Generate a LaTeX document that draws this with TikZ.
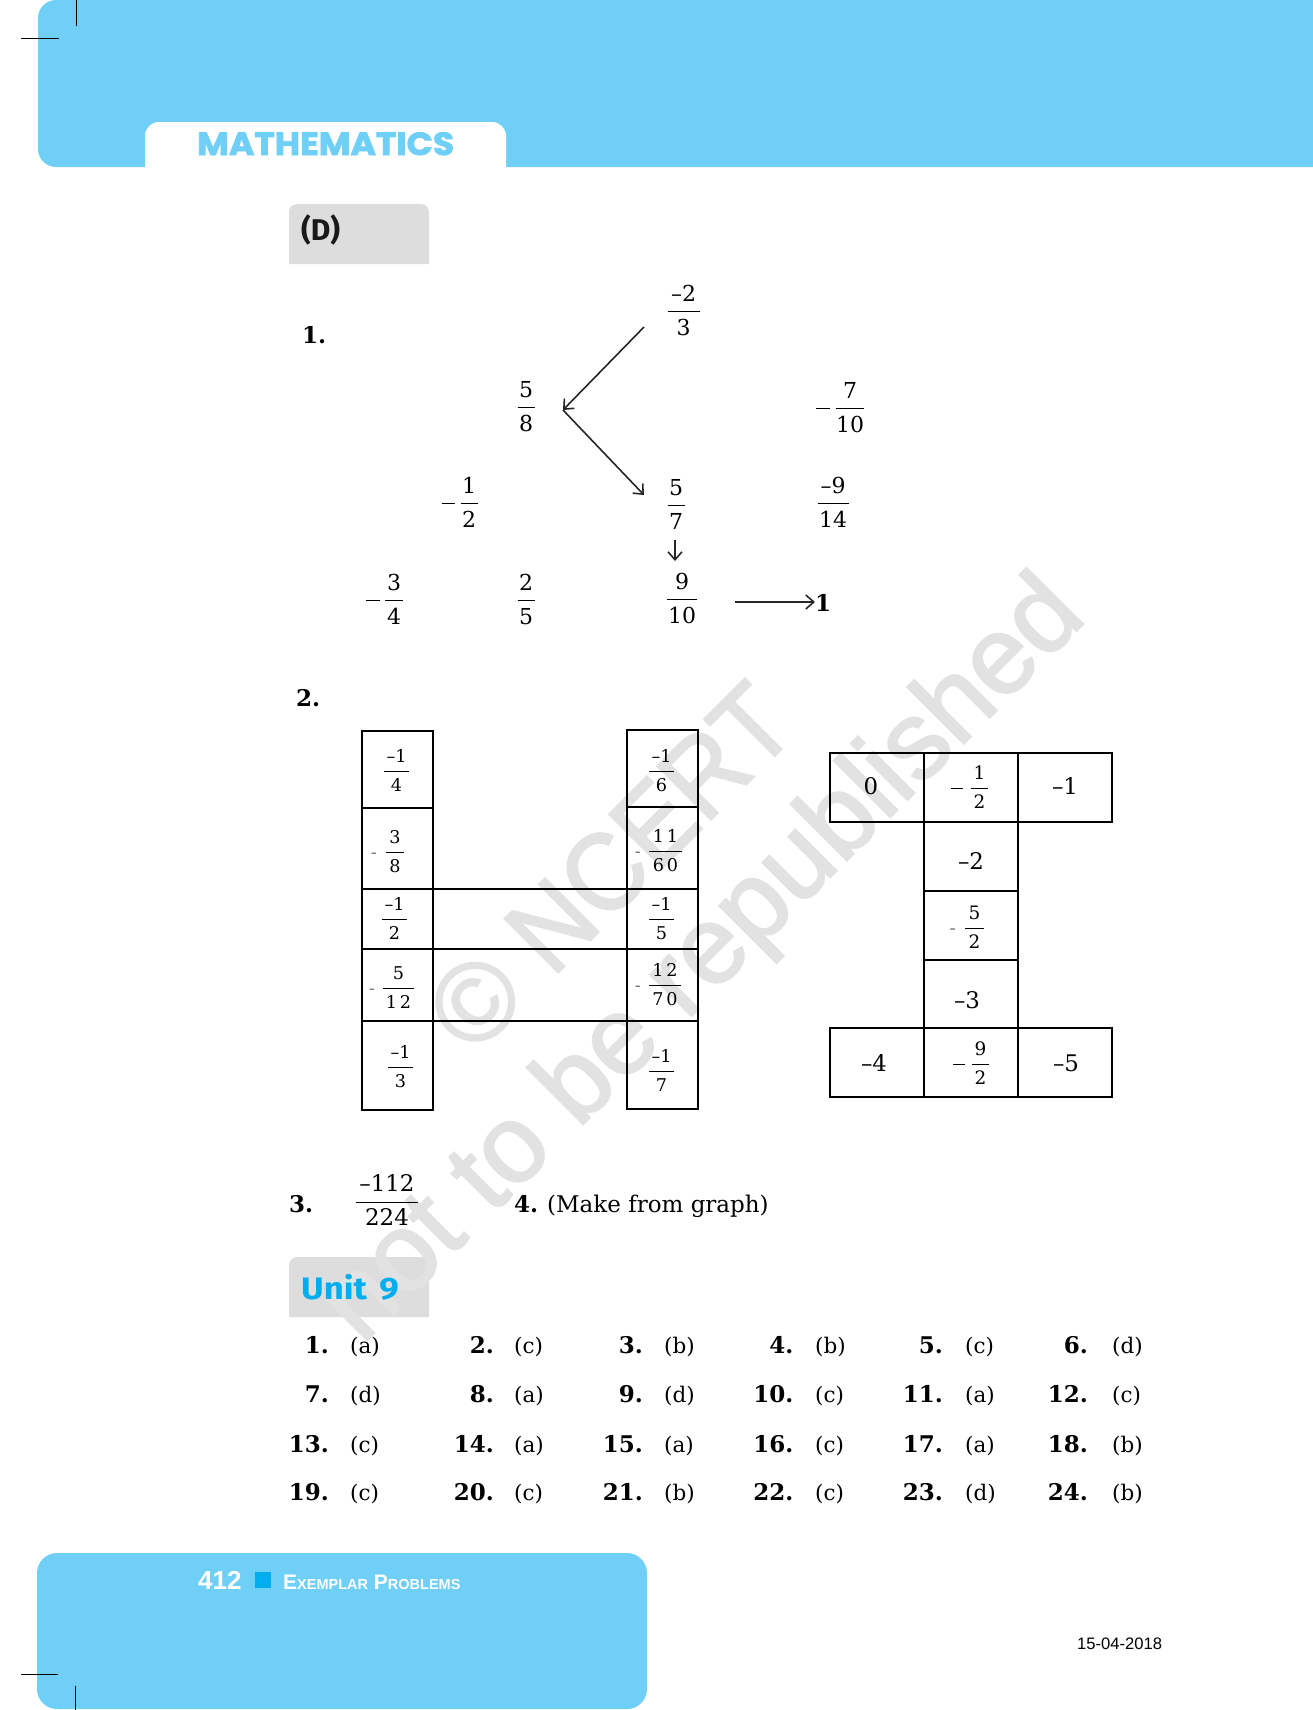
\documentclass[tikz,border=0pt]{standalone}
\usepackage{amsmath,graphicx}
\usepackage[no-math]{fontspec}
\usepackage{tikz}
\usetikzlibrary{arrows.meta}
\newfontfamily\bookfont{DejaVu Serif}
\newfontfamily\numfont[Scale=0.88,Ligatures=TeX]{DejaVu Serif}
\newfontfamily\headfont[BoldFeatures={FakeBold=2.5,FakeStretch=1.08}]{Poppins}
\newfontfamily\labelfont{Fira Sans}
\newfontfamily\unitfont[BoldFeatures={FakeStretch=1.12}]{Fira Sans}
\newfontfamily\footfont{Liberation Sans}
\newfontfamily\wmfont[FakeBold=2]{Liberation Sans}
\definecolor{skyblue}{HTML}{70CFF6}
\definecolor{unitblue}{HTML}{00AEEF}
\definecolor{greybox}{HTML}{DDDDDD}
\definecolor{wmgrey}{HTML}{E2E2E2}
\newcommand{\fr}[3]{$\dfrac{\makebox[#1pt]{\numfont #2}}{\makebox[#1pt]{\numfont #3}}$}
\newcommand{\negfr}[4]{\llap{\rule[0.24em]{0.55em}{0.035em}\hspace{#1pt}}\fr{#2}{#3}{#4}}
\newcommand{\dashfr}[4]{\llap{\textcolor{black!55}{\numfont -}\hspace{#1pt}}\fr{#2}{#3}{#4}}
\tikzset{
  bigfrac/.style={anchor=base,inner sep=0pt,font=\fontsize{25}{30}\selectfont},
  cellfrac/.style={anchor=base,inner sep=0pt,font=\fontsize{20}{24}\selectfont},
  midfrac/.style={anchor=base,inner sep=0pt,font=\fontsize{21}{25}\selectfont},
  cellnum/.style={inner sep=0pt,font=\numfont\fontsize{26}{30}\selectfont},
  qnum/.style={anchor=base west,inner sep=0pt,font=\bookfont\bfseries\fontsize{23}{28}\selectfont},
  ansnum/.style={anchor=base east,inner sep=0pt,font=\bookfont\bfseries\fontsize{23}{28}\selectfont},
  anstext/.style={anchor=base west,inner sep=0pt,font=\bookfont\fontsize{21.5}{26}\selectfont},
  cell/.style={draw,inner sep=0pt,outer sep=0pt,line width=1.8pt,minimum width=71pt},
  wide/.style={draw,inner sep=0pt,outer sep=0pt,line width=1.8pt,minimum width=94pt,minimum height=69pt},
  arr/.style={-{Straight Barb[length=8pt,width=14pt]},line width=1.6pt,black!85},
  crop/.style={line width=0.6pt,black},
  wmtext/.style={text=wmgrey,inner sep=0pt,rotate=45,font=\wmfont\fontsize{110}{120}\selectfont}
}
\begin{document}
\begin{tikzpicture}[x=1pt,y=-1pt]
  \useasboundingbox (0,0) rectangle (1313,1710);
  % Bands
  \fill[skyblue] (1313,0) [rounded corners=18] -- (38,0) -- (38,167) [sharp corners] -- (1313,167) -- cycle;
  \fill[white,rounded corners=14] (145,168) -- (145,122) -- (506,122) -- (506,168);
  \fill[skyblue,rounded corners=20] (37,1709) -- (37,1553) -- (647,1553) -- (647,1709) -- cycle;
  \fill[greybox,rounded corners=8] (289,264) -- (289,204) -- (429,204) -- (429,264);
  \fill[greybox,rounded corners=8] (289,1317) -- (289,1257) -- (429,1257) -- (429,1317);
  % Watermark
  \node[wmtext] (wmone) at (610,867) {\char"00A9{} \scalebox{0.93}[1]{NCERT}};
  \node[wmtext] (wmtwo) at (705,962) {not to be republished};
  % Crop marks
  \coordinate (cropa) at (76,0);  \coordinate (cropb) at (76,26);
  \coordinate (cropc) at (21,38); \coordinate (cropd) at (59,38);
  \coordinate (crope) at (21,1674); \coordinate (cropf) at (58,1674);
  \coordinate (cropg) at (75,1686); \coordinate (croph) at (75,1710);
  \draw[crop] (cropa) -- (cropb);
  \draw[crop] (cropc) -- (cropd);
  \draw[crop] (crope) -- (cropf);
  \draw[crop] (cropg) -- (croph);
  % Headings
  \node[anchor=base west,inner sep=0pt,text=skyblue,font=\headfont\bfseries\fontsize{32}{36}\selectfont] (title) at (197,155) {MATHEMATICS};
  \node[anchor=base west,inner sep=0pt,text=black!90,font=\labelfont\bfseries\fontsize{30}{32}\selectfont] (partd) at (301,240) {(D)};
  \node[anchor=base west,inner sep=0pt,text=unitblue,font=\unitfont\bfseries\fontsize{31}{36}\selectfont] (unit) at (301,1299) {Unit\hspace{4pt} 9};
  % Question 1
  \node[qnum] (qone) at (302,343) {1.};
  \node[bigfrac] (nA) at (683.5,318) {\fr{32}{--2}{3}};
  \node[bigfrac] (nB) at (526,414) {\fr{17}{5}{8}};
  \node[bigfrac] (nC) at (850,415) {\negfr{5}{28}{7}{10}};
  \node[bigfrac] (nD) at (469,510) {\negfr{4}{17}{1}{2}};
  \node[bigfrac] (nE) at (676,512) {\fr{17}{5}{7}};
  \node[bigfrac] (nF) at (833,510) {\fr{31}{--9}{14}};
  \node[bigfrac] (nG) at (394,607) {\negfr{4}{18}{3}{4}};
  \node[bigfrac] (nH) at (526,607) {\fr{17}{2}{5}};
  \node[bigfrac] (nI) at (682,606) {\fr{30}{9}{10}};
  \node[qnum] (nJ) at (815,611) {1};
  \coordinate (startA) at (644,327);
  \coordinate (apex) at (563,410);
  \coordinate (endE) at (644,495);
  \coordinate (startK) at (675,540);
  \coordinate (endK) at (675,561);
  \coordinate (startL) at (735,602);
  \draw[arr] (startA) -- (apex);
  \draw[arr] (apex) -- (endE);
  \draw[arr] (startK) -- (endK);
  \draw[arr] (startL) -- (nJ.west |- startL);
  % Question 2, first table
  \node[qnum] (qtwo) at (296,706) {2.};
  \foreach \ya/\yb [count=\i] in {731/808,808/889,889/949,949/1021,1021/1110}
    \node[cell,minimum height={\yb-\ya}] (l\i) at (397.5,{(\ya+\yb)/2}) {};
  \foreach \ya/\yb [count=\i] in {730/807,807/889,889/949,949/1021,1021/1109}
    \node[cell,minimum height={\yb-\ya}] (r\i) at (662.5,{(\ya+\yb)/2}) {};
  \foreach \i in {3,4,5}
    \draw[line width=1.8pt] (l\i.north east) -- (r\i.north west);
  \node[cellfrac] (fl1) at (396.5,777) {\fr{25}{--1}{4}};
  \node[cellfrac] (fl2) at (395,858) {\dashfr{8}{18}{3}{8}};
  \node[cellfrac] (fl3) at (394.5,925) {\fr{25}{--1}{2}};
  \node[cellfrac] (fl4) at (398.5,994) {\dashfr{7}{31}{5}{1\,2}};
  \node[cellfrac] (fl5) at (400.5,1073) {\fr{25}{--1}{3}};
  \node[cellfrac] (fr1) at (661.5,777) {\fr{25}{--1}{6}};
  \node[cellfrac] (fr2) at (665.5,857) {\dashfr{7}{33}{1\,1}{6\,0}};
  \node[cellfrac] (fr3) at (661.5,925) {\fr{25}{--1}{5}};
  \node[cellfrac] (fr4) at (665,991) {\dashfr{7}{32}{1\,2}{7\,0}};
  \node[cellfrac] (fr5) at (661.5,1077) {\fr{25}{--1}{7}};
  % Question 2, second table
  \node[wide] (tA) at (877,787.5) {};
  \node[wide] (tB) at (971,787.5) {};
  \node[wide] (tC) at (1065,787.5) {};
  \node[wide,line width=1.3pt] (tD) at (971,856.5) {};
  \node[wide,line width=1.3pt] (tE) at (971,925.5) {};
  \node[wide,line width=1.3pt] (tF) at (971,994) {};
  \node[wide,line width=2pt] (tG) at (877,1062.5) {};
  \node[wide,line width=2pt] (tH) at (971,1062.5) {};
  \node[wide,line width=2pt] (tI) at (1065,1062.5) {};
  \node[cellnum] (vA) at (871,786) {0};
  \node[midfrac] (vB) at (979.5,794) {\negfr{7}{17}{1}{2}};
  \node[cellnum] (vC) at (1065,786) {--1};
  \node[cellnum] (vD) at (971,861) {--2};
  \node[midfrac] (vE) at (974.5,934) {\dashfr{8}{19}{5}{2}};
  \node[cellnum] (vF) at (967,1000) {--3};
  \node[cellnum] (vG) at (874,1063) {--4};
  \node[midfrac] (vH) at (980.5,1070) {\negfr{6}{17}{9}{2}};
  \node[cellnum] (vI) at (1066,1063) {--5};
  % Questions 3 and 4
  \node[qnum] (qthree) at (289,1212) {3.};
  \node[anchor=base,inner sep=0pt,font=\fontsize{26}{30}\selectfont] (nM) at (387,1208.5) {\fr{62}{--112}{224}};
  \node[qnum] (qfour) at (514,1212) {4.};
  \node[anstext,font=\bookfont\fontsize{23}{28}\selectfont] (qfourt) at (547,1212) {(Make from graph)};
  % Unit 9 answers
  \foreach \ans [count=\i from 0] in {a,c,b,b,c,d,d,a,d,c,a,c,c,a,a,c,a,b,c,c,b,c,d,b} {
    \pgfmathtruncatemacro\num{\i+1}
    \pgfmathtruncatemacro\cidx{mod(\i,6)}
    \pgfmathtruncatemacro\ridx{div(\i,6)}
    \pgfmathsetmacro\numx{{329,494,643,793.5,943,1088}[\cidx]}
    \pgfmathsetmacro\ansx{{350,514,664,815,965,1112}[\cidx]}
    \pgfmathsetmacro\rowy{{1353,1402,1452,1500}[\ridx]}
    \node[ansnum] (an\num) at (\numx,\rowy) {\num.};
    \node[anstext] (at\num) at (\ansx,\rowy) {(\ans)};
  }
  % Footer
  \node[anchor=base west,inner sep=0pt,text=white,font=\footfont\bfseries\fontsize{26}{30}\selectfont] (pageno) at (198,1589) {412};
  \fill[unitblue] (255,1572) rectangle (271,1588);
  \node[anchor=base west,inner sep=0pt,text=white,font=\footfont\bfseries\fontsize{21}{26}\selectfont] (book) at (283,1589) {E{\fontsize{14.5}{20}\selectfont XEMPLAR} P{\fontsize{14.5}{20}\selectfont ROBLEMS}};
  \node[anchor=base west,inner sep=0pt,font=\footfont\fontsize{16.6}{20}\selectfont] (date) at (1077,1649) {15-04-2018};
\end{tikzpicture}
\end{document}
